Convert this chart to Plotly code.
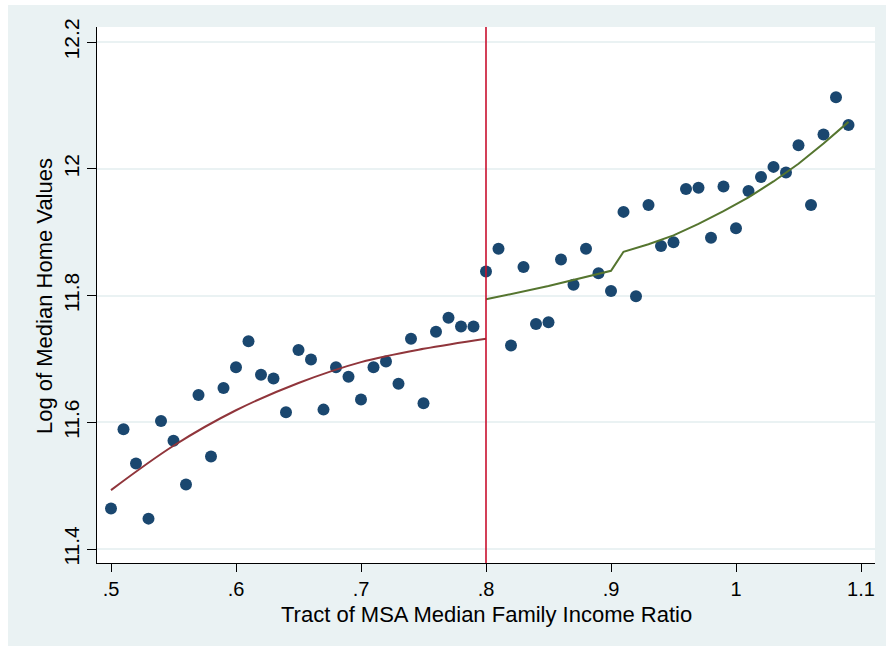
import plotly.graph_objects as go

# ---- data ----
income_ratio = [0.50, 0.51, 0.52, 0.53, 0.54, 0.55, 0.56, 0.57, 0.58, 0.59,
                0.60, 0.61, 0.62, 0.63, 0.64, 0.65, 0.66, 0.67, 0.68, 0.69,
                0.70, 0.71, 0.72, 0.73, 0.74, 0.75, 0.76, 0.77, 0.78, 0.79,
                0.80, 0.81, 0.82, 0.83, 0.84, 0.85, 0.86, 0.87, 0.88, 0.89,
                0.90, 0.91, 0.92, 0.93, 0.94, 0.95, 0.96, 0.97, 0.98, 0.99,
                1.00, 1.01, 1.02, 1.03, 1.04, 1.05, 1.06, 1.07, 1.08, 1.09]
log_home_value = [11.464, 11.589, 11.535, 11.448, 11.602, 11.571, 11.502, 11.643, 11.546, 11.654,
                  11.687, 11.728, 11.675, 11.669, 11.616, 11.714, 11.699, 11.620, 11.687, 11.672,
                  11.636, 11.687, 11.696, 11.661, 11.732, 11.630, 11.743, 11.765, 11.751, 11.751,
                  11.838, 11.874, 11.721, 11.845, 11.755, 11.758, 11.857, 11.817, 11.874, 11.835,
                  11.807, 11.932, 11.799, 11.943, 11.878, 11.884, 11.968, 11.970, 11.891, 11.972,
                  11.906, 11.965, 11.987, 12.003, 11.994, 12.037, 11.943, 12.054, 12.113, 12.069]

fit_left_x = [0.50, 0.55, 0.60, 0.65, 0.70, 0.75, 0.80]
fit_left_y = [11.493, 11.563, 11.619, 11.662, 11.695, 11.716, 11.732]

fit_right_x = [0.80, 0.85, 0.90, 0.91, 0.93, 0.95, 0.97, 0.99, 1.01, 1.03, 1.05, 1.07, 1.09]
fit_right_y = [11.794, 11.815, 11.839, 11.869, 11.881, 11.895, 11.913, 11.933, 11.955,
               11.980, 12.008, 12.040, 12.074]

cutoff = 0.8

x_ticks = [0.5, 0.6, 0.7, 0.8, 0.9, 1.0, 1.1]
x_tick_text = [".5", ".6", ".7", ".8", ".9", "1", "1.1"]
y_ticks = [11.4, 11.6, 11.8, 12.0, 12.2]
y_tick_text = ["11.4", "11.6", "11.8", "12", "12.2"]

x_title = "Tract of MSA Median Family Income Ratio"
y_title = "Log of Median Home Values"

BG = "#EAF2F3"
FONT = "Liberation Sans, Arial, sans-serif"

fig = go.Figure()

fig.add_trace(go.Scatter(
    x=income_ratio, y=log_home_value, mode="markers",
    marker=dict(color="#1A476F", size=12, line=dict(width=0)),
    showlegend=False, hoverinfo="skip"))

fig.add_trace(go.Scatter(
    x=fit_left_x, y=fit_left_y, mode="lines",
    line=dict(color="#90353B", width=2, shape="spline"),
    showlegend=False, hoverinfo="skip"))

fig.add_trace(go.Scatter(
    x=fit_right_x, y=fit_right_y, mode="lines",
    line=dict(color="#55752F", width=2),
    showlegend=False, hoverinfo="skip"))

# vertical cutoff line
fig.add_shape(type="line", xref="x", yref="paper", x0=cutoff, x1=cutoff, y0=0, y1=1,
              line=dict(color="#C8102E", width=1.6), layer="above")

L, R, T, B = 97, 11, 27, 83
W, H = 886, 646
pw, ph = W - L - R, H - T - B
# white page strips outside the light grey graph region (top and left)
fig.add_shape(type="rect", xref="paper", yref="paper",
              x0=-L / pw, x1=(W - L) / pw, y0=(H - B - 5) / ph, y1=(H - B) / ph + 0.01,
              fillcolor="white", line=dict(width=0), layer="below")
fig.add_shape(type="rect", xref="paper", yref="paper",
              x0=-L / pw - 0.01, x1=(8 - L) / pw, y0=-B / ph - 0.01, y1=(H - B) / ph + 0.01,
              fillcolor="white", line=dict(width=0), layer="below")

# axis titles
fig.add_annotation(text=y_title, xref="paper", yref="paper",
                   x=(44 - L) / pw, y=(H - B - 296) / ph, xanchor="center", yanchor="middle",
                   textangle=-90, showarrow=False, font=dict(size=22, family=FONT, color="black"))
fig.add_annotation(text=x_title, xref="paper", yref="paper",
                   x=0.5, y=(H - B - 614) / ph, xanchor="center", yanchor="middle",
                   showarrow=False, font=dict(size=22, family=FONT, color="black"))

fig.update_layout(
    width=W, height=H,
    margin=dict(l=L, r=R, t=T, b=B, pad=0),
    paper_bgcolor=BG, plot_bgcolor="white",
    font=dict(family=FONT, color="black"),
    xaxis=dict(
        range=[0.4888, 1.1112], tickvals=x_ticks, ticktext=x_tick_text,
        ticks="outside", ticklen=8, tickcolor="black", tickwidth=1,
        showline=True, linecolor="black", linewidth=1, mirror=False,
        showgrid=False, zeroline=False,
        tickfont=dict(size=20, family=FONT),
    ),
    yaxis=dict(
        range=[11.378, 12.2237], tickvals=y_ticks, ticktext=y_tick_text,
        ticks="outside", ticklen=9, tickcolor="black", tickwidth=1,
        tickangle=-90, ticklabelstandoff=0,
        showline=True, linecolor="black", linewidth=1, mirror=False,
        showgrid=True, gridcolor=BG, gridwidth=1.5, zeroline=False,
        tickfont=dict(size=21, family=FONT),
    ),
)

fig.write_html("out.html")
